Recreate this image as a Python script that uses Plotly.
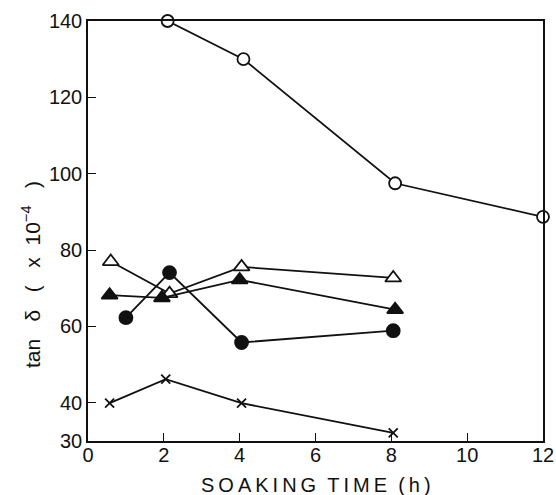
import plotly.graph_objects as go

# Soaking time (h) and loss tangent (x 10^-4) for each sample series
hours_open_circle = [2.1, 4.1, 8.1, 12.0]
tand_open_circle = [140.0, 130.0, 97.5, 88.7]

hours_open_triangle = [0.6, 2.15, 4.05, 8.05]
tand_open_triangle = [77.0, 68.6, 75.6, 72.7]

hours_filled_triangle = [0.57, 1.95, 4.0, 8.1]
tand_filled_triangle = [68.2, 67.5, 72.2, 64.4]

hours_filled_circle = [1.0, 2.15, 4.05, 8.05]
tand_filled_circle = [62.3, 74.1, 55.8, 58.9]

hours_cross = [0.57, 2.05, 4.05, 8.05]
tand_cross = [39.9, 46.2, 39.9, 32.1]

x_ticks = [0, 2, 4, 6, 8, 10, 12]
y_ticks = [30, 40, 60, 80, 100, 120, 140]

FONT = "Liberation Sans, Arial, sans-serif"
INK = "#111111"
NB = "\u00a0"
TS = "\u2009"

series = [
    (hours_open_circle, tand_open_circle, "circle", "white", 12),
    (hours_open_triangle, tand_open_triangle, "triangle-up", "white", 14),
    (hours_filled_triangle, tand_filled_triangle, "triangle-up", INK, 14),
    (hours_filled_circle, tand_filled_circle, "circle", INK, 13),
    (hours_cross, tand_cross, "x-thin", INK, 9),
]

fig = go.Figure()
for xs, ys, symbol, fill, size in series:
    fig.add_trace(go.Scatter(
        x=xs, y=ys, mode="lines+markers", cliponaxis=False,
        line=dict(color=INK, width=1.8),
        marker=dict(symbol=symbol, size=size, color=fill,
                    line=dict(color=INK, width=1.8)),
        showlegend=False,
    ))

axis_common = dict(
    showline=True, linecolor=INK, linewidth=1.5, mirror=True,
    ticks="inside", ticklen=8, tickwidth=1.3, tickcolor=INK,
    showgrid=False, zeroline=False,
    tickfont=dict(family=FONT, size=20, color=INK),
)

x_title = TS.join("SOAKING") + NB + NB + TS.join("TIME") + NB + NB + TS.join("(h)")
y_title = ("tan" + NB * 3 + "δ" + NB * 3 + "(" + NB * 3 + "x" + NB * 2
           + "10<sup>−4</sup>" + NB * 3 + ")")

fig.update_layout(
    width=556, height=495,
    margin=dict(l=88, r=13, t=21, b=54, autoexpand=False),
    paper_bgcolor="white", plot_bgcolor="white",
    xaxis=dict(
        range=[0, 12], tickvals=x_ticks, ticktext=[str(v) for v in x_ticks],
        ticklabelstandoff=-5,
        **axis_common,
    ),
    yaxis=dict(
        range=[30, 140], tickvals=y_ticks, ticktext=[str(v) for v in y_ticks],
        **axis_common,
    ),
    annotations=[
        dict(text=x_title, xref="paper", yref="paper", x=0.5, y=0,
             yshift=-44, xanchor="center", yanchor="middle", showarrow=False,
             font=dict(family=FONT, size=20, color=INK)),
        dict(text=y_title, xref="paper", yref="paper", x=0, y=0.395,
             xshift=-57, xanchor="center", yanchor="middle", textangle=-90,
             showarrow=False, font=dict(family=FONT, size=21, color=INK)),
    ],
)

fig.write_html("out.html")
